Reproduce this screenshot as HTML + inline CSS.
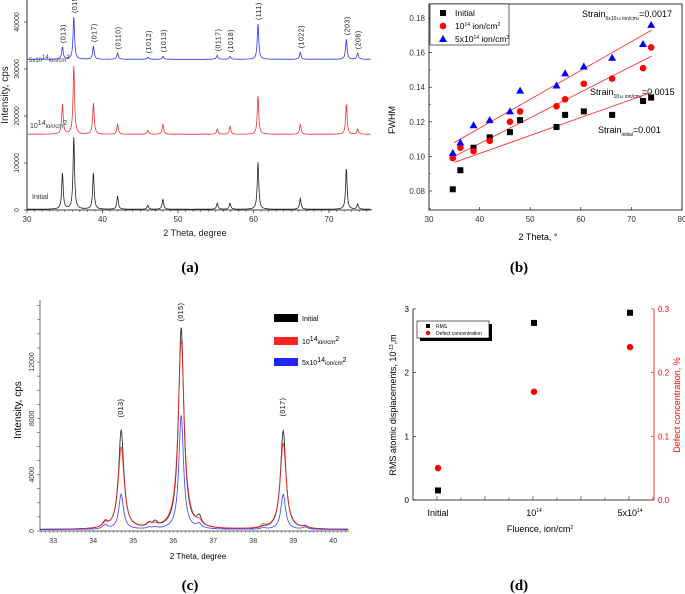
<!DOCTYPE html>
<html><head><meta charset="utf-8"><style>
body{margin:0;background:#fff;}
svg{display:block;font-family:"Liberation Sans",sans-serif;}
</style></head><body>
<svg id="fig" width="685" height="594" viewBox="0 0 685 594" xmlns="http://www.w3.org/2000/svg">
<g id="pa"></g>
<g id="pb"></g>
<g id="pc"></g>
<g id="pd"></g>
<text x="190" y="272" font-family="Liberation Serif" font-weight="bold" font-size="15" text-anchor="middle">(a)</text>
<text x="519" y="272" font-family="Liberation Serif" font-weight="bold" font-size="15" text-anchor="middle">(b)</text>
<text x="190" y="590" font-family="Liberation Serif" font-weight="bold" font-size="15" text-anchor="middle">(c)</text>
<text x="519" y="590" font-family="Liberation Serif" font-weight="bold" font-size="15" text-anchor="middle">(d)</text>
</svg>
<script>
// ---- Panel a data ----
const aPeakPos=[34.7,36.2,38.8,42.0,46.0,48.0,55.2,56.9,60.6,66.2,72.3,73.8];
const aInitial=[7700,15300,7700,2800,850,2100,1300,1300,10000,2300,8700,1100];
const aLow=[6400,14500,6600,2100,850,2100,1100,1700,8100,2100,6400,1100];
const aHigh=[2600,9000,2800,1300,430,640,850,640,7500,1500,4300,1300];
const aLabels=["(013)","(015)","(017)","(0110)","(1012)","(1013)","(0117)","(1018)","(111)","(1022)","(203)","(208)"];
const aYTicks=[0,10000,20000,30000,40000];
const aXTicks=[30,40,50,60,70];
// ---- Panel b data ----
const bTheta=[34.7,36.2,38.8,42,46,48,55.2,56.9,60.6,66.2,72.3,73.9];
const bInitial=[0.081,0.092,0.105,0.111,0.114,0.121,0.117,0.124,0.126,0.124,0.132,0.134];
const bLow=[0.099,0.105,0.103,0.109,0.120,0.126,0.129,0.133,0.142,0.145,0.151,0.163];
const bHigh=[0.102,0.108,0.118,0.121,0.126,0.138,0.141,0.148,0.152,0.157,0.165,0.176];
const bFitInitial=[0.0965,0.137];
const bFitLow=[0.100,0.158];
const bFitHigh=[0.108,0.173];
const bYTicks=[0.08,0.10,0.12,0.14,0.16,0.18];
const bXTicks=[30,40,50,60,70,80];
// ---- Panel c data ----
const cPeakPos=[34.3,34.7,35.4,35.55,36.2,36.65,38.25,38.75,39.3];
const cInitial=[400,7000,250,350,14300,650,100,7000,150];
const cLow=[300,5800,300,150,13400,300,200,6100,100];
const cHigh=[300,2500,100,100,8100,300,100,2500,150];
const cYTicks=[0,4000,8000,12000];
const cXTicks=[33,34,35,36,37,38,39,40];
// ---- Panel d data ----
const dCats=["Initial","10","5x10"];
const dRMS=[0.15,2.78,2.94];
const dDefect=[0.05,0.17,0.24];
const dYTicks=[0,1,2,3];
const dY2Ticks=[0.0,0.1,0.2,0.3];

const NS="http://www.w3.org/2000/svg";
function mk(parent,tag,attrs,text){const e=document.createElementNS(NS,tag);for(const k in attrs)e.setAttribute(k,attrs[k]);if(text!==undefined)e.textContent=text;parent.appendChild(e);return e;}

// ================= Panel A =================
(function(){
const g=document.getElementById('pa');
const ax=v=>27+(v-30)*7.55;
const ay=v=>210-v*0.0047;
let e;
e=mk(g,'line',{x1:27,y1:0,x2:27,y2:210,stroke:'#000','stroke-width':0.8});

e=mk(g,'line',{x1:27,y1:210,x2:372,y2:210,stroke:'#000','stroke-width':0.8});

aYTicks.forEach(t=>{const y=ay(t);mk(g,'line',{x1:24,y1:y,x2:27,y2:y,stroke:'#000','stroke-width':0.6});
e=mk(g,'text',{x:19,y:y,'font-size':7,'text-anchor':'middle',transform:`rotate(-90 19 ${y})`,fill:'#333'},String(t));
});
aXTicks.forEach(t=>{const x=ax(t);mk(g,'line',{x1:x,y1:210,x2:x,y2:213,stroke:'#000','stroke-width':0.6});
e=mk(g,'text',{x:x,y:222,'font-size':8,'text-anchor':'middle',fill:'#333'},String(t));
});
for(let v=31;v<76;v++){if(v%10){const x=ax(v);mk(g,'line',{x1:x,y1:210,x2:x,y2:212,stroke:'#000','stroke-width':0.4});}}
const series=[[aInitial,'#222',0,'a-series-initial'],[aLow,'#e33',75,'a-series-1e14'],[aHigh,'#33e',150,'a-series-5e14']];
series.forEach(([vals,col,o,name])=>{let pts=[];
for(let t=30;t<=75.5;t+=0.04){let s=150;aPeakPos.forEach((p,i)=>{const w=0.12;s+=vals[i]*w*w/((t-p)*(t-p)+w*w);});
pts.push(ax(t).toFixed(1)+','+(ay(s)-o).toFixed(1));}
e=mk(g,'polyline',{points:pts.join(' '),fill:'none',stroke:col,'stroke-width':0.8});
});
aLabels.forEach((l,i)=>{const x=ax(aPeakPos[i])+3;const y=ay(aHigh[i]+150)-150-4;
e=mk(g,'text',{x:x,y:y,'font-size':7,transform:`rotate(-90 ${x} ${y})`,fill:'#222','letter-spacing':'0.5'},l);
});
e=mk(g,'text',{x:29,y:62,'font-size':6,fill:'#333'});e.innerHTML='5x10<tspan dy="-3">14</tspan><tspan dy="3">ion/cm</tspan><tspan dy="-3">2</tspan>';

e=mk(g,'text',{x:30,y:128,'font-size':7,fill:'#333'});e.innerHTML='10<tspan dy="-3">14</tspan><tspan dy="3" font-size="6">ion/cm</tspan><tspan dy="-3">2</tspan>';

e=mk(g,'text',{x:32,y:199,'font-size':7,fill:'#333'},'Initial');

e=mk(g,'text',{x:8,y:95,'font-size':10,'text-anchor':'middle',transform:'rotate(-90 8 95)',fill:'#222'},'Intensity, cps');

e=mk(g,'text',{x:195,y:236,'font-size':9,'text-anchor':'middle',fill:'#222'},'2 Theta, degree');

})();

// ================= Panel B =================
(function(){
const g=document.getElementById('pb');
const bx=v=>429+(v-30)*5.06;
const by=v=>191-(v-0.08)*1730;
let e;
e=mk(g,'rect',{x:429,y:4,width:253,height:206,fill:'none',stroke:'#000','stroke-width':0.8});

bYTicks.forEach(t=>{const y=by(t);mk(g,'line',{x1:429,y1:y,x2:432,y2:y,stroke:'#000','stroke-width':0.6});
e=mk(g,'text',{x:425,y:y+3,'font-size':8,'text-anchor':'end',fill:'#333'},t.toFixed(2));
});
for(let v=0.07;v<=0.19;v+=0.02){const y=by(v);if(y>4&&y<210)mk(g,'line',{x1:429,y1:y,x2:431,y2:y,stroke:'#000','stroke-width':0.4});}
bXTicks.forEach(t=>{const x=bx(t);mk(g,'line',{x1:x,y1:210,x2:x,y2:207,stroke:'#000','stroke-width':0.6});
e=mk(g,'text',{x:x,y:222,'font-size':8,'text-anchor':'middle',fill:'#333'},String(t));
});
[[bFitInitial,'b-fit-initial'],[bFitLow,'b-fit-1e14'],[bFitHigh,'b-fit-5e14']].forEach(([f,n])=>{
e=mk(g,'line',{x1:bx(35),y1:by(f[0]),x2:bx(74),y2:by(f[1]),stroke:'#f33','stroke-width':0.9});
});
bTheta.forEach((t,i)=>{
e=mk(g,'rect',{x:bx(t)-3,y:by(bInitial[i])-3,width:6,height:6,fill:'#000'});

e=mk(g,'circle',{cx:bx(t),cy:by(bLow[i]),r:3.3,fill:'#f00'});

const x=bx(t),y=by(bHigh[i]);
e=mk(g,'polygon',{points:`${x},${y-4} ${x-4},${y+3} ${x+4},${y+3}`,fill:'#00f'});
});
e=mk(g,'rect',{x:430,y:4,width:79,height:41,fill:'#fff',stroke:'#000','stroke-width':0.6});

mk(g,'rect',{x:440,y:10,width:6,height:6,fill:'#000'});
mk(g,'circle',{cx:443,cy:26,r:3.3,fill:'#f00'});
mk(g,'polygon',{points:'443,35 439,42 447,42',fill:'#00f'});
e=mk(g,'text',{x:455,y:16,'font-size':8.5},'Initial');
e=mk(g,'text',{x:455,y:29,'font-size':8.5});e.innerHTML='10<tspan dy="-3" font-size="5">14</tspan><tspan dy="3"> ion/cm</tspan><tspan dy="-3" font-size="5">2</tspan>';
e=mk(g,'text',{x:455,y:42,'font-size':8.5});e.innerHTML='5x10<tspan dy="-3" font-size="5">14</tspan><tspan dy="3"> ion/cm</tspan><tspan dy="-3" font-size="5">2</tspan>';
e=mk(g,'text',{x:582,y:17,'font-size':9});e.innerHTML='Strain<tspan dy="3" font-size="5">5x10<tspan font-size="4">14</tspan> ion/cm<tspan font-size="4">2</tspan></tspan><tspan dy="-3">=0.0017</tspan>';

e=mk(g,'text',{x:590,y:95,'font-size':9});e.innerHTML='Strain<tspan dy="3" font-size="5">10<tspan font-size="4">14</tspan> ion/cm<tspan font-size="4">2</tspan></tspan><tspan dy="-3">=0.0015</tspan>';

e=mk(g,'text',{x:598,y:133,'font-size':9});e.innerHTML='Strain<tspan dy="3" font-size="5">initial</tspan><tspan dy="-3">=0.001</tspan>';

e=mk(g,'text',{x:395,y:120,'font-size':9,'text-anchor':'middle',transform:'rotate(-90 395 120)'},'FWHM');

e=mk(g,'text',{x:538,y:240,'font-size':9,'text-anchor':'middle'},'2 Theta, °');

})();

// ================= Panel C =================
(function(){
const g=document.getElementById('pc');
const cx=v=>40+(v-32.67)*40;
const cy=v=>531-v*0.01408;
let e;
e=mk(g,'line',{x1:40,y1:300,x2:40,y2:531,stroke:'#333','stroke-width':0.7});

e=mk(g,'line',{x1:40,y1:531,x2:349,y2:531,stroke:'#333','stroke-width':0.7});

for(let v=0;v<=16000;v+=1000){const y=cy(v);if(y>=300)mk(g,'line',{x1:37,y1:y,x2:40,y2:y,stroke:'#333','stroke-width':0.5});}
for(let v=32.7;v<40.4;v+=0.1){const x=cx(v);mk(g,'line',{x1:x,y1:531,x2:x,y2:533,stroke:'#333','stroke-width':0.4});}
cYTicks.forEach(t=>{const y=cy(t);
e=mk(g,'text',{x:34,y:y,'font-size':7,'text-anchor':'middle',transform:`rotate(-90 34 ${y})`,fill:'#333'},String(t));
});
cXTicks.forEach(t=>{const x=cx(t);
e=mk(g,'text',{x:x,y:543,'font-size':7,'text-anchor':'middle',fill:'#333'},String(t));
});
[[cInitial,'#111',0.08,'c-series-initial'],[cLow,'#f22',0.09,'c-series-1e14'],[cHigh,'#33f',0.07,'c-series-5e14']].forEach(([vals,col,w,name])=>{
let pts=[];for(let t=32.67;t<=40.37;t+=0.01){let s=100;cPeakPos.forEach((p,i)=>{const ww=(vals[i]>1000)?w:0.07;s+=vals[i]*ww*ww/((t-p)*(t-p)+ww*ww);});
pts.push(cx(t).toFixed(1)+','+cy(s).toFixed(1));}
e=mk(g,'polyline',{points:pts.join(' '),fill:'none',stroke:col,'stroke-width':0.9,opacity:0.85});
});
[["(013)",34.7,408],["(015)",36.2,312],["(017)",38.75,407]].forEach(([l,p,y])=>{const x=cx(p)+2;
e=mk(g,'text',{x:x,y:y,'font-size':7,'text-anchor':'middle',transform:`rotate(-90 ${x} ${y})`,'letter-spacing':'0.5'},l);
});
[['#000',318,'Initial','c-legend-initial'],['#f22',341,'','c-legend-1e14'],['#22f',362,'','c-legend-5e14']].forEach(([c,y,t,n],i)=>{
mk(g,'rect',{x:274,y:y-4,width:24,height:8,fill:c});
e=mk(g,'text',{x:302,y:y+3,'font-size':7});
if(i==0)e.textContent='Initial';else if(i==1)e.innerHTML='10<tspan dy="-3">14</tspan><tspan dy="3" font-size="6">ion/cm</tspan><tspan dy="-3">2</tspan>';
else e.innerHTML='5x10<tspan dy="-3">14</tspan><tspan dy="3" font-size="6">ion/cm</tspan><tspan dy="-3">2</tspan>';
});
e=mk(g,'text',{x:21,y:410,'font-size':10,'text-anchor':'middle',transform:'rotate(-90 21 410)'},'Intensity, cps');

e=mk(g,'text',{x:198,y:559,'font-size':8,'text-anchor':'middle'},'2 Theta, degree');

})();

// ================= Panel D =================
(function(){
const g=document.getElementById('pd');
const dx=i=>438+i*96;
const dy=v=>500-v*63.7;
const dy2=v=>500-v*637;
let e;
e=mk(g,'line',{x1:413,y1:309,x2:413,y2:500,stroke:'#000','stroke-width':0.8});

e=mk(g,'line',{x1:413,y1:500,x2:654,y2:500,stroke:'#000','stroke-width':0.8});

e=mk(g,'line',{x1:654,y1:309,x2:654,y2:500,stroke:'#f00','stroke-width':0.8});

dYTicks.forEach(t=>{const y=dy(t);mk(g,'line',{x1:413,y1:y,x2:416,y2:y,stroke:'#000','stroke-width':0.6});
e=mk(g,'text',{x:409,y:y+3,'font-size':8,'text-anchor':'end'},String(t));
});
dY2Ticks.forEach(t=>{const y=dy2(t);mk(g,'line',{x1:651,y1:y,x2:654,y2:y,stroke:'#f00','stroke-width':0.6});
e=mk(g,'text',{x:658,y:y+3,'font-size':8,fill:'#f00'},t.toFixed(1));
});
for(let k=0;k<5;k++){const x=413+k*48;mk(g,'line',{x1:x+24,y1:500,x2:x+24,y2:496,stroke:'#000','stroke-width':0.5});mk(g,'line',{x1:x+48,y1:500,x2:x+48,y2:497,stroke:'#000','stroke-width':0.4});}
dCats.forEach((c,i)=>{
e=mk(g,'text',{x:dx(i),y:516,'font-size':9,'text-anchor':'middle'});
if(i==0)e.textContent=c;else e.innerHTML=c+'<tspan dy="-4" font-size="5">14</tspan>';

e=mk(g,'rect',{x:dx(i)-3,y:dy(dRMS[i])-3,width:6,height:6,fill:'#000'});

e=mk(g,'circle',{cx:dx(i),cy:dy2(dDefect[i]),r:3.2,fill:'#f00'});
});
mk(g,'rect',{x:420,y:324,width:72,height:17,fill:'#000'});
e=mk(g,'rect',{x:417,y:321,width:72,height:17,fill:'#fff',stroke:'#000','stroke-width':0.6});

mk(g,'rect',{x:426,y:324,width:4,height:4,fill:'#000'});
mk(g,'circle',{cx:428,cy:333,r:2.2,fill:'#f00'});
e=mk(g,'text',{x:436,y:328,'font-size':5},'RMS');
e=mk(g,'text',{x:436,y:335,'font-size':5},'Defect concentration');
e=mk(g,'text',{x:396,y:405,'font-size':9,'text-anchor':'middle',transform:'rotate(-90 396 405)'});
e.innerHTML='RMS atomic displacements, 10<tspan dy="-3" font-size="5">-13</tspan><tspan dy="3">,m</tspan>';

e=mk(g,'text',{x:680,y:405,'font-size':9,'text-anchor':'middle',fill:'#f00',transform:'rotate(-90 680 405)'},'Defect concentration, %');

e=mk(g,'text',{x:540,y:532,'font-size':9,'text-anchor':'middle'});
e.innerHTML='Fluence, ion/cm<tspan dy="-3" font-size="5">2</tspan>';

})();
</script>
</body></html>
